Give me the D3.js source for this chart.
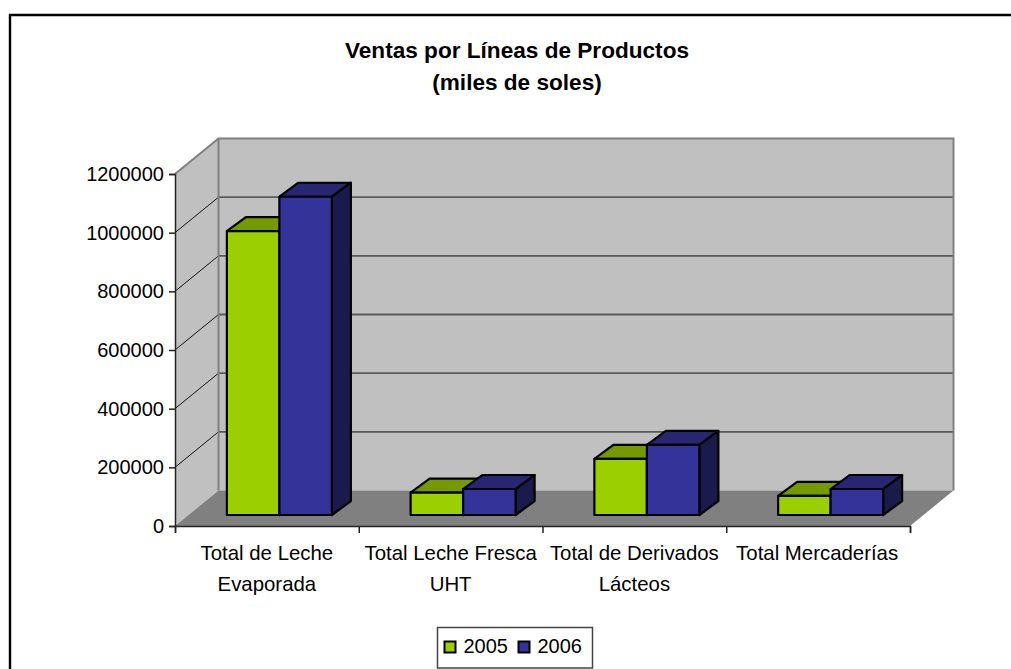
<!DOCTYPE html>
<html>
<head>
<meta charset="utf-8">
<script src="https://cdnjs.cloudflare.com/ajax/libs/d3/7.8.5/d3.min.js"></script>
<style>
html, body { margin: 0; padding: 0; background: #fff; overflow: hidden; }
text { font-family: "Liberation Sans", Arial, sans-serif; fill: #000; }
.tick-label { font-size: 20px; }
.cat-label { font-size: 20.4px; }
</style>
</head>
<body>
<script>
const titleLines = ['Ventas por Líneas de Productos', '(miles de soles)'];
const categories = ['Total de Leche Evaporada', 'Total Leche Fresca UHT', 'Total de Derivados Lácteos', 'Total Mercaderías'];
const categoryLines = [['Total de Leche', 'Evaporada'], ['Total Leche Fresca', 'UHT'], ['Total de Derivados', 'Lácteos'], ['Total Mercaderías']];
const years = ['2005', '2006'];
const values2005 = [968000, 76000, 191000, 65000];
const values2006 = [1085000, 88600, 239000, 88600];
const yTicks = [0, 200000, 400000, 600000, 800000, 1000000, 1200000];

const colors = {
    '2005': {front: '#9ccf00', top: '#749a00', side: '#5c7a00'},
    '2006': {front: '#333399', top: '#262673', side: '#1a1a4d'}
};

const width = 1011, height = 669;
const svg = d3.select('body').append('svg')
    .attr('width', width)
    .attr('height', height)
    .style('display', 'block');

// outer frame runs off the right and bottom of the picture
svg.append('path')
    .attr('d', 'M10,' + (height + 5) + 'V15H' + (width + 5))
    .attr('fill', 'none')
    .attr('stroke', '#000')
    .attr('stroke-width', 2.4);

// title
svg.append('text')
    .attr('text-anchor', 'middle')
    .style('font-size', '22.6px')
    .style('font-weight', 'bold')
    .selectAll('tspan')
    .data(titleLines)
    .enter()
    .append('tspan')
    .attr('x', 517)
    .attr('y', (d, i) => 58 + i * 32)
    .text(d => d);

// scales
const x = d3.scaleBand().domain(categories).range([175, 910]);
const xEdges = d3.scaleLinear().domain([0, categories.length]).range([175, 910]);
const y = d3.scaleLinear().domain([0, 1200000]).range([526, 174]);
const series = d3.scaleBand().domain(years).range([0, 105]);

const depthX = 43.5, depthY = -35.5;     // wall offset
const barDepthX = 19, barDepthY = -14;
const barOffX = 12.5, barOffY = -11;

const x0 = x.range()[0], x1 = x.range()[1], y0 = y(0), yTop = y(1200000);

// side wall
svg.append('path')
    .attr('d', `M${x0},${y0}L${x0},${yTop}L${x0 + depthX},${yTop + depthY}L${x0 + depthX},${y0 + depthY}Z`)
    .attr('fill', '#c0c0c0');

// back wall
svg.append('rect')
    .attr('x', x0 + depthX)
    .attr('y', yTop + depthY)
    .attr('width', x1 - x0)
    .attr('height', y0 - yTop)
    .attr('fill', '#c0c0c0');

// floor
svg.append('path')
    .attr('d', `M${x0},${y0}L${x1},${y0}L${x1 + depthX},${y0 + depthY}L${x0 + depthX},${y0 + depthY}Z`)
    .attr('fill', '#808080');

// gridlines on the back wall, diagonals on the side wall
svg.append('g')
    .selectAll('line')
    .data(yTicks.filter(d => d > 0 && d < 1200000))
    .enter()
    .append('line')
    .attr('x1', x0 + depthX)
    .attr('x2', x1 + depthX)
    .attr('y1', d => y(d) + depthY)
    .attr('y2', d => y(d) + depthY)
    .attr('stroke', '#5a5a5a')
    .attr('stroke-width', 1.8);

svg.append('g')
    .selectAll('line')
    .data(yTicks.filter(d => d > 0 && d < 1200000))
    .enter()
    .append('line')
    .attr('x1', x0)
    .attr('x2', x0 + depthX)
    .attr('y1', d => y(d))
    .attr('y2', d => y(d) + depthY)
    .attr('stroke', '#111')
    .attr('stroke-width', 1);

// wall edges
svg.append('path')
    .attr('d', `M${x0},${yTop}L${x0 + depthX},${yTop + depthY}H${x1 + depthX}V${y0 + depthY}`)
    .attr('fill', 'none')
    .attr('stroke', '#808080')
    .attr('stroke-width', 2);
svg.append('line')
    .attr('x1', x0 + depthX)
    .attr('x2', x0 + depthX)
    .attr('y1', yTop + depthY)
    .attr('y2', y0 + depthY)
    .attr('stroke', '#808080')
    .attr('stroke-width', 2);

// bars, back to front: 2005 then 2006 so the blue box overlaps the green top
const drawBar = (cat, year, value) => {
    const left = x(cat) + (x.bandwidth() - series.range()[1]) / 2 + barOffX + series(year);
    const right = left + series.bandwidth();
    const top = y(value) + barOffY;
    const bottom = y(0) + barOffY;
    const c = colors[year];
    const g = svg.append('g')
        .attr('stroke', '#000')
        .attr('stroke-width', 2.2)
        .attr('stroke-linejoin', 'round');
    g.append('path')
        .attr('d', `M${left},${top}L${left + barDepthX},${top + barDepthY}H${right + barDepthX}L${right},${top}Z`)
        .attr('fill', c.top);
    g.append('path')
        .attr('d', `M${right},${top}L${right + barDepthX},${top + barDepthY}V${bottom + barDepthY}L${right},${bottom}Z`)
        .attr('fill', c.side);
    g.append('rect')
        .attr('x', left)
        .attr('y', top)
        .attr('width', right - left)
        .attr('height', bottom - top)
        .attr('fill', c.front);
};
categories.forEach((cat, i) => {
    drawBar(cat, '2005', values2005[i]);
    drawBar(cat, '2006', values2006[i]);
});

// y axis
const yAxis = svg.append('g')
    .attr('transform', 'translate(' + x0 + ',0)')
    .call(d3.axisLeft(y).tickValues(yTicks).tickFormat(d3.format('d')).tickSize(6).tickPadding(5));
yAxis.selectAll('text').attr('class', 'tick-label');
yAxis.selectAll('.domain, line').attr('stroke', '#222').attr('stroke-width', 1.5);

// x axis, ticks sit on the category edges
const xAxis = svg.append('g')
    .attr('transform', 'translate(0,' + y0 + ')')
    .call(d3.axisBottom(xEdges).ticks(categories.length).tickFormat('').tickSize(7));
xAxis.selectAll('.domain, line').attr('stroke', '#222').attr('stroke-width', 1.5);

svg.append('g')
    .selectAll('text')
    .data(categories)
    .enter()
    .append('text')
    .attr('class', 'cat-label')
    .attr('text-anchor', 'middle')
    .selectAll('tspan')
    .data((d, i) => categoryLines[i].map(line => ({line: line, cat: d})))
    .enter()
    .append('tspan')
    .attr('x', d => x(d.cat) + x.bandwidth() / 2 - (d.cat === categories[3] ? 1 : 0))
    .attr('y', (d, i) => 560 + i * 31)
    .text(d => d.line);

// legend
const legend = svg.append('g').attr('transform', 'translate(437.5,627.5)');
legend.append('rect')
    .attr('width', 155)
    .attr('height', 40.5)
    .attr('fill', '#fff')
    .attr('stroke', '#444')
    .attr('stroke-width', 1.5);
const legendX = d3.scaleBand().domain(years).range([7, 155]);
const items = legend.selectAll('g')
    .data(years)
    .enter()
    .append('g')
    .attr('transform', d => 'translate(' + legendX(d) + ',0)');
items.append('rect')
    .attr('y', 14)
    .attr('width', 11)
    .attr('height', 11)
    .attr('fill', d => colors[d].front)
    .attr('stroke', '#000')
    .attr('stroke-width', 2);
items.append('text')
    .attr('class', 'tick-label')
    .attr('x', 19)
    .attr('y', 25)
    .text(d => d);
</script>
</body>
</html>
